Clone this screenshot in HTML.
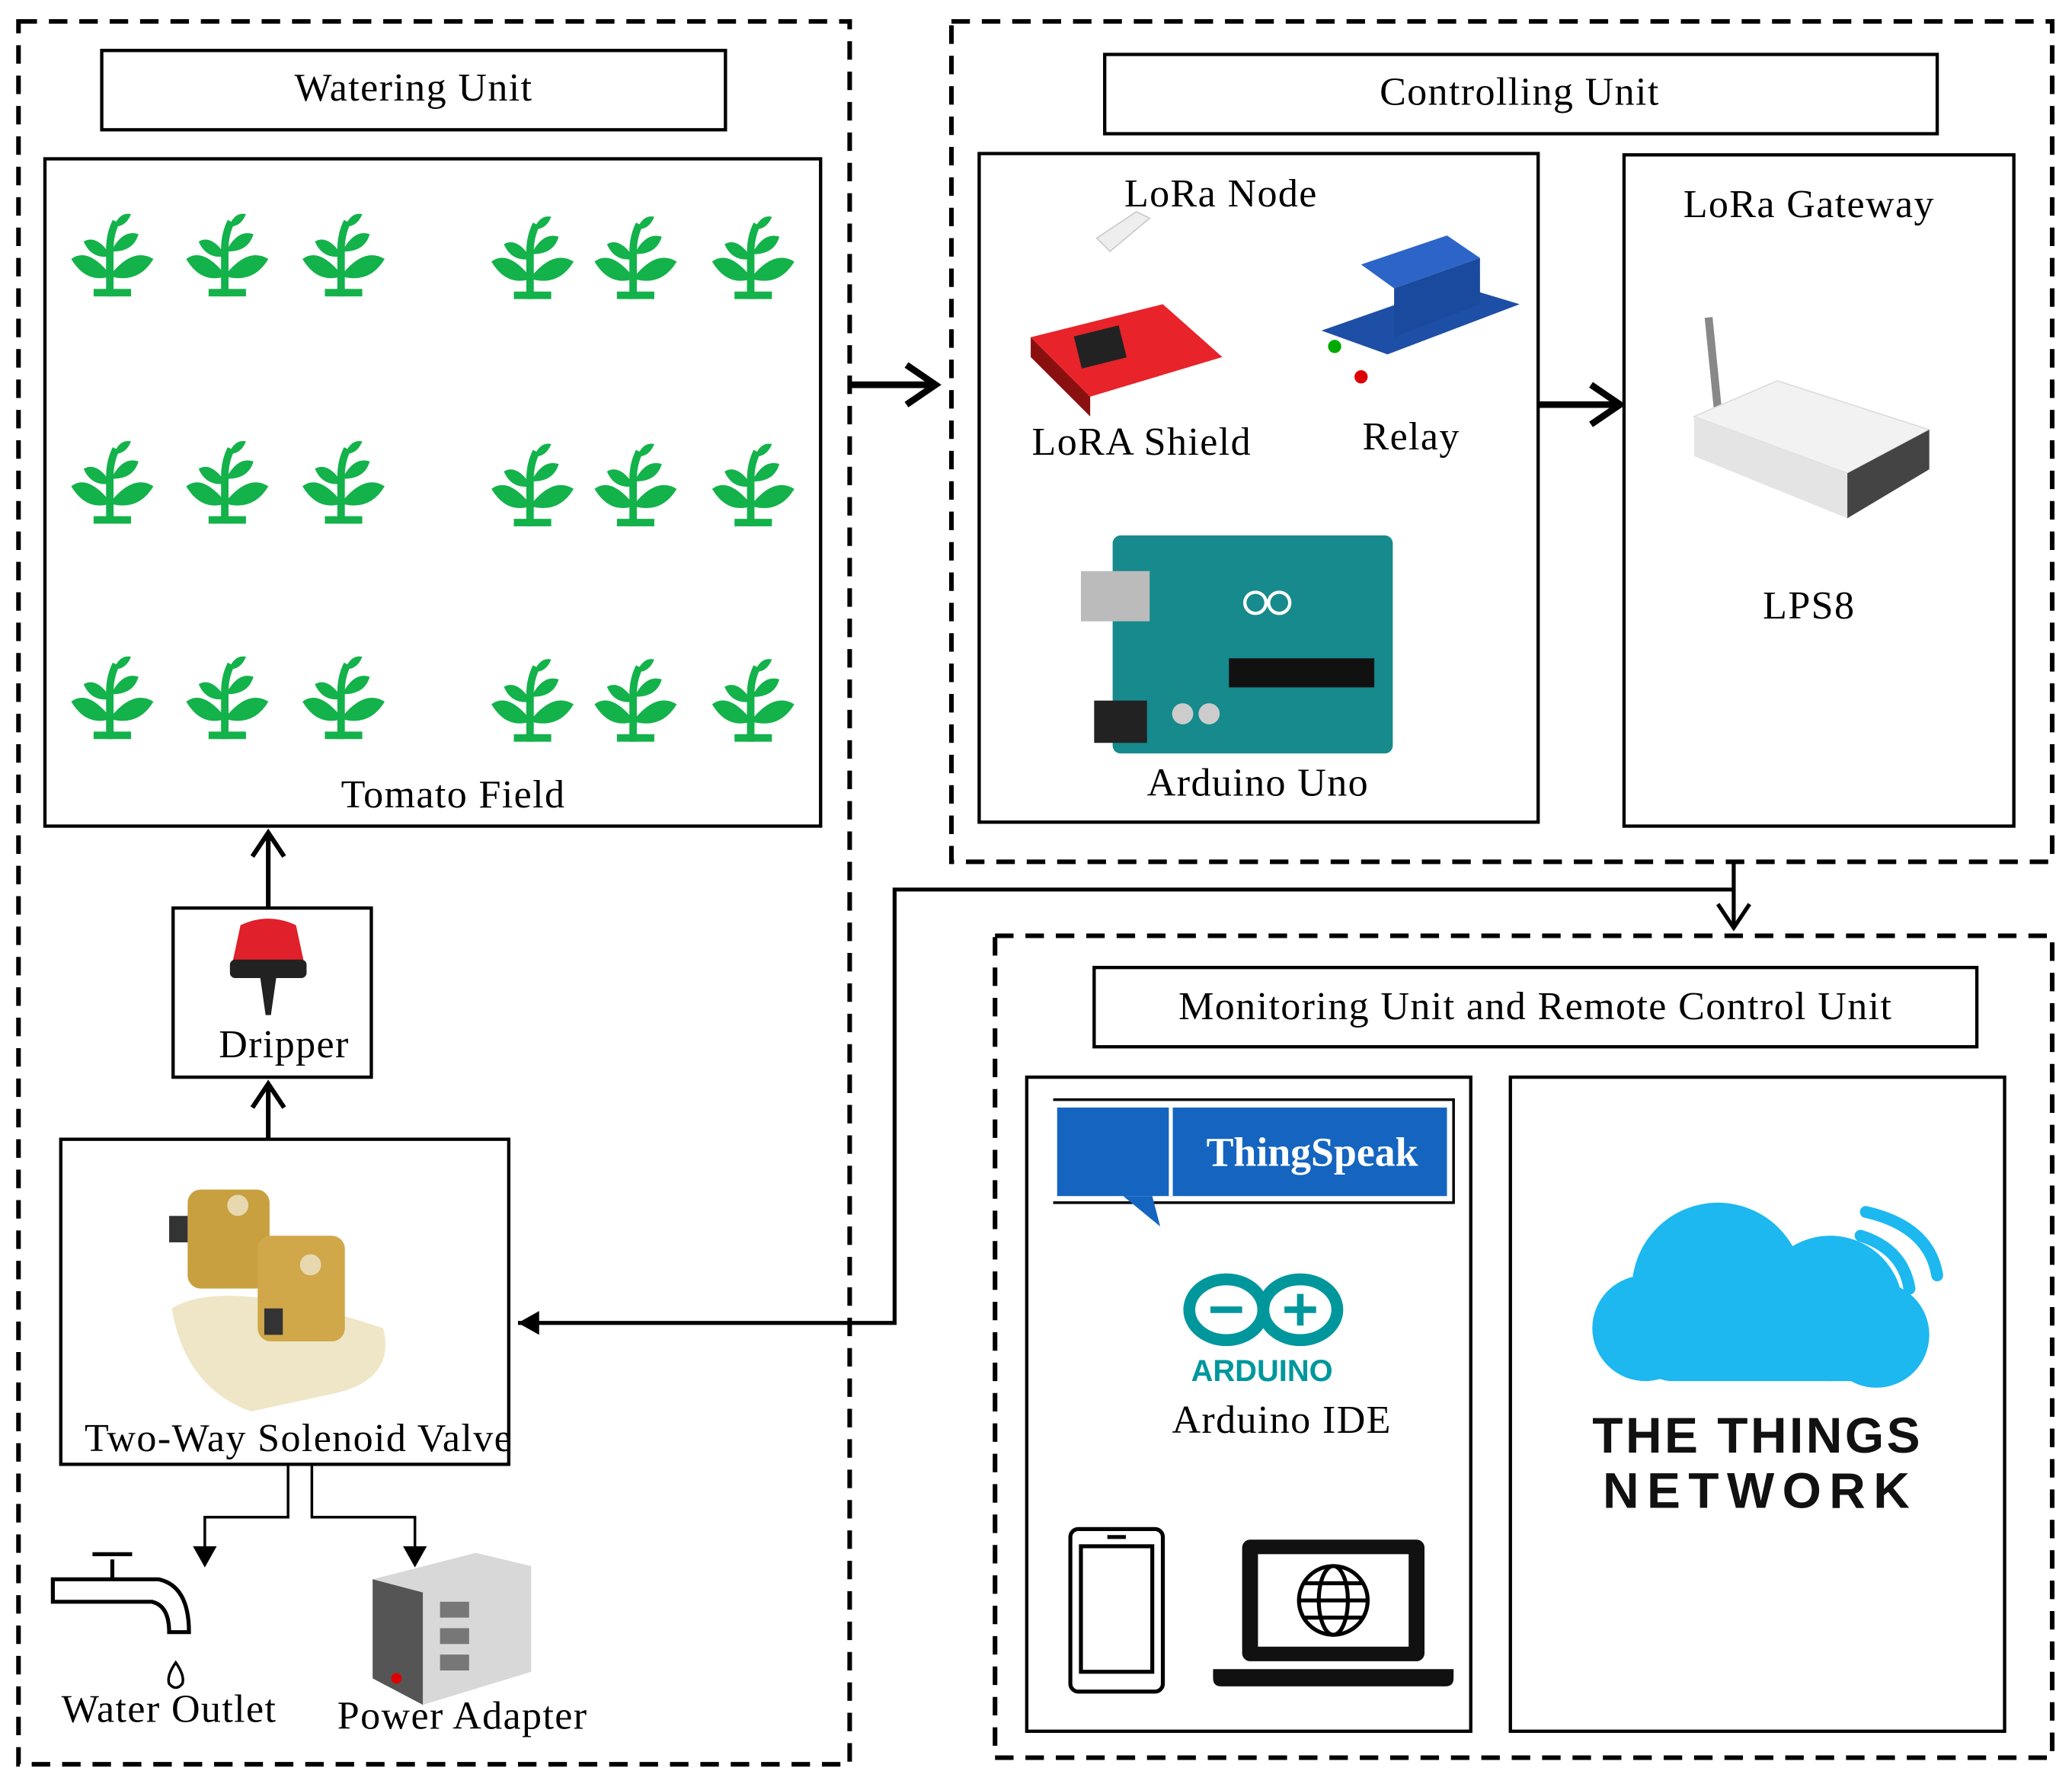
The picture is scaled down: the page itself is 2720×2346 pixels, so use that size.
<!DOCTYPE html>
<html><head><meta charset="utf-8"><style>
html,body{margin:0;padding:0;background:#fff;}
svg{display:block;}
text{font-family:"Liberation Serif",serif;}
text.sans{font-family:"Liberation Sans",sans-serif;}
</style></head><body>
<svg width="2720" height="2346" viewBox="0 0 1568 1352" xmlns="http://www.w3.org/2000/svg">
<defs>
<symbol id="plant" viewBox="0 0 70 70">
<path d="M33 68 L33 30 Q33 18 38 8" stroke="#13b24a" stroke-width="6" fill="none"/>
<path d="M33 50 Q15 28 2 38 Q14 58 33 52Z" fill="#13b24a"/>
<path d="M34 50 Q52 28 68 38 Q56 58 34 52Z" fill="#13b24a"/>
<path d="M33 34 Q22 18 12 24 Q18 38 33 36Z" fill="#13b24a"/>
<path d="M35 30 Q44 14 56 18 Q52 32 35 32Z" fill="#13b24a"/>
<path d="M37 10 Q42 0 50 2 Q46 12 37 12Z" fill="#13b24a"/>
<rect x="20" y="62" width="30" height="6" fill="#13b24a"/>
</symbol>
</defs>
<g fill="none" stroke="#000" stroke-width="3.5" stroke-dasharray="14 9">
<rect x="14" y="16" width="629" height="1319"/>
<rect x="720" y="16" width="833" height="636"/>
<rect x="753" y="708" width="800" height="622"/>
</g>
<g fill="none" stroke="#000" stroke-width="2.5">
<rect x="77" y="38" width="472" height="60"/>
<rect x="34" y="120" width="587" height="505"/>
<rect x="131" y="687" width="150" height="128"/>
<rect x="46" y="862" width="339" height="246"/>
<rect x="836" y="41" width="630" height="60"/>
<rect x="741" y="116" width="423" height="506"/>
<rect x="1229" y="117" width="295" height="508"/>
<rect x="828" y="732" width="668" height="60"/>
<rect x="777" y="815" width="336" height="495"/>
<rect x="1143" y="815" width="374" height="495"/>
</g>
<g font-size="30" text-anchor="middle" fill="#000" letter-spacing="0.8">
<text x="313" y="76">Watering Unit</text>
<text x="343" y="611">Tomato Field</text>
<text x="215" y="800">Dripper</text>
<text x="226" y="1098">Two-Way Solenoid Valve</text>
<text x="128" y="1303">Water Outlet</text>
<text x="350" y="1308">Power Adapter</text>
<text x="1150" y="79">Controlling Unit</text>
<text x="924" y="156">LoRa Node</text>
<text x="864" y="344">LoRA Shield</text>
<text x="1068" y="340">Relay</text>
<text x="952" y="602">Arduino Uno</text>
<text x="1369" y="164">LoRa Gateway</text>
<text x="1369" y="468">LPS8</text>
<text x="1162" y="771">Monitoring Unit and Remote Control Unit</text>
<text x="970" y="1084">Arduino IDE</text>
</g>
<g>
<use href="#plant" x="52" y="160" width="66" height="66"/><use href="#plant" x="139" y="160" width="66" height="66"/><use href="#plant" x="227" y="160" width="66" height="66"/>
<use href="#plant" x="370" y="162" width="66" height="66"/><use href="#plant" x="448" y="162" width="66" height="66"/><use href="#plant" x="537" y="162" width="66" height="66"/>
<use href="#plant" x="52" y="332" width="66" height="66"/><use href="#plant" x="139" y="332" width="66" height="66"/><use href="#plant" x="227" y="332" width="66" height="66"/>
<use href="#plant" x="370" y="334" width="66" height="66"/><use href="#plant" x="448" y="334" width="66" height="66"/><use href="#plant" x="537" y="334" width="66" height="66"/>
<use href="#plant" x="52" y="495" width="66" height="66"/><use href="#plant" x="139" y="495" width="66" height="66"/><use href="#plant" x="227" y="495" width="66" height="66"/>
<use href="#plant" x="370" y="497" width="66" height="66"/><use href="#plant" x="448" y="497" width="66" height="66"/><use href="#plant" x="537" y="497" width="66" height="66"/>
</g>
<g stroke="#000" fill="none" stroke-width="3.5">
<path d="M203 687 V630 M191 648 L203 630 L215 648"/>
<path d="M203 862 V820 M191 838 L203 820 L215 838"/>
<path d="M643 291 H708 M686 276 L708 291 L686 306" stroke-width="5"/>
<path d="M1164 306 H1226 M1204 291 L1226 306 L1204 321" stroke-width="5"/>
<path d="M1312 652 V702 M1300 684 L1312 702 L1324 684" stroke-width="3"/>
<path d="M1312 673 H677 V1001 H392" stroke-width="3"/>
<path d="M392 1001 L408 992 L408 1010Z" fill="#000" stroke="none"/>
</g>
<g stroke="#000" fill="none" stroke-width="2">
<path d="M218 1108 V1148 H155 V1172"/><path d="M236 1108 V1148 H314 V1172"/>
</g>
<path d="M146 1170 L164 1170 L155 1186Z M305 1170 L323 1170 L314 1186Z"/>
<g>
<path d="M182 700 Q203 690 224 700 L230 728 L176 728Z" fill="#e0202a"/>
<rect x="174" y="726" width="58" height="14" rx="4" fill="#222"/>
<path d="M197 740 L209 740 L205 768 L201 768Z" fill="#222"/>
</g>
<g>
<path d="M130 990 Q170 965 290 1005 Q300 1045 250 1055 L190 1068 Q140 1050 130 990Z" fill="#efe6c8"/>
<rect x="142" y="900" width="62" height="75" rx="10" fill="#c8a040"/>
<rect x="195" y="935" width="66" height="80" rx="10" fill="#d0a84a"/>
<circle cx="180" cy="912" r="8" fill="#e8d8b0"/><circle cx="235" cy="957" r="8" fill="#e8d8b0"/>
<rect x="128" y="920" width="14" height="20" fill="#333"/><rect x="200" y="990" width="14" height="20" fill="#333"/>
</g>
<g fill="none" stroke="#000" stroke-width="3">
<path d="M40 1195 H120 Q143 1200 143 1235 H128 Q128 1215 115 1212 H40 Z"/>
<path d="M85 1195 V1180 M70 1176 H100"/>
<path d="M133 1258 Q126 1268 128 1274 Q133 1280 138 1274 Q140 1268 133 1258Z" stroke-width="2"/>
</g>
<g>
<path d="M282 1195 L360 1175 L402 1185 L402 1265 L320 1290 L282 1270Z" fill="#d8d8d8"/>
<path d="M282 1195 L320 1205 L320 1290 L282 1270Z" fill="#555"/>
<rect x="333" y="1212" width="22" height="12" fill="#777"/><rect x="333" y="1232" width="22" height="12" fill="#777"/><rect x="333" y="1252" width="22" height="12" fill="#777"/>
<circle cx="300" cy="1270" r="4" fill="#d00"/>
</g>
<g>
<path d="M830 180 L860 160 L870 165 L840 190Z" fill="#eee" stroke="#ccc"/>
<path d="M780 255 L880 230 L925 270 L825 300Z" fill="#e8232a"/>
<path d="M780 255 L825 300 L825 315 L780 270Z" fill="#8a1010"/>
<rect x="815" y="250" width="35" height="25" fill="#222" transform="rotate(-14 832 262)"/>
</g>
<g>
<path d="M1000 250 L1100 215 L1150 230 L1050 268Z" fill="#1e4fa6"/>
<path d="M1030 200 L1095 178 L1120 195 L1055 218 Z" fill="#2d64c8"/>
<path d="M1055 218 L1120 195 L1120 230 L1055 255Z" fill="#1a4a9e"/>
<circle cx="1030" cy="285" r="5" fill="#d00"/><circle cx="1010" cy="262" r="5" fill="#0a0"/>
</g>
<g>
<rect x="842" y="405" width="212" height="165" rx="6" fill="#168a8c"/>
<rect x="818" y="432" width="52" height="38" fill="#bbb"/>
<rect x="828" y="530" width="40" height="32" fill="#222"/>
<rect x="930" y="498" width="110" height="22" fill="#111"/>
<path d="M950 448 a8 8 0 1 0 0.1 0 M968 448 a8 8 0 1 0 0.1 0" stroke="#fff" stroke-width="2.5" fill="none"/>
<circle cx="895" cy="540" r="8" fill="#ccc"/><circle cx="915" cy="540" r="8" fill="#ccc"/>
</g>
<g>
<line x1="1293" y1="240" x2="1300" y2="310" stroke="#888" stroke-width="6"/>
<path d="M1282 315 L1345 288 L1460 325 L1398 358Z" fill="#f2f2f2" stroke="#ddd"/>
<path d="M1282 315 L1398 358 L1398 392 L1282 345Z" fill="#e4e4e4"/>
<path d="M1398 358 L1460 325 L1460 355 L1398 392Z" fill="#444"/>
</g>
<g>
<path d="M797 832 H1100 V910 H797" fill="none" stroke="#000" stroke-width="2"/>
<rect x="800" y="838" width="295" height="67" fill="#1565c0"/>
<line x1="886" y1="838" x2="886" y2="905" stroke="#fff" stroke-width="3"/>
<path d="M850 905 L878 928 L872 905Z" fill="#1565c0"/>
<text x="993" y="882" font-size="31" font-weight="bold" fill="#fff" text-anchor="middle">ThingSpeak</text>
</g>
<g fill="none" stroke="#00979c" stroke-width="9">
<ellipse cx="928" cy="991" rx="28" ry="23"/><ellipse cx="984" cy="991" rx="28" ry="23"/>
</g>
<path d="M916 991 H940 M972 991 H996 M984 979 V1003" stroke="#00979c" stroke-width="5"/>
<text class="sans" x="955" y="1045" font-size="23" font-weight="bold" fill="#00979c" text-anchor="middle">ARDUINO</text>
<g fill="none" stroke="#000" stroke-width="3">
<rect x="810" y="1157" width="70" height="123" rx="6"/>
<rect x="818" y="1170" width="54" height="95"/>
<line x1="838" y1="1163" x2="852" y2="1163"/>
</g>
<g>
<rect x="940" y="1165" width="138" height="92" rx="6" fill="#111"/>
<rect x="952" y="1176" width="114" height="70" fill="#fff"/>
<path d="M918 1263 H1100 V1270 Q1100 1276 1094 1276 H924 Q918 1276 918 1270Z" fill="#111"/>
<g fill="none" stroke="#000" stroke-width="3"><circle cx="1009" cy="1211" r="26"/><ellipse cx="1009" cy="1211" rx="11" ry="26"/><line x1="983" y1="1211" x2="1035" y2="1211"/><line x1="987" y1="1198" x2="1031" y2="1198"/><line x1="987" y1="1224" x2="1031" y2="1224"/></g>
</g>
<g fill="#1cb8ef">
<circle cx="1300" cy="975" r="65"/><circle cx="1385" cy="990" r="55"/><circle cx="1245" cy="1005" r="40"/><circle cx="1420" cy="1010" r="40"/>
<rect x="1240" y="990" width="200" height="55" rx="25"/>
</g>
<g fill="none" stroke="#1cb8ef" stroke-width="9" stroke-linecap="round">
<path d="M1408 935 Q1440 945 1445 975"/><path d="M1412 917 Q1460 928 1466 965"/>
</g>
<g font-weight="bold" font-size="38" text-anchor="middle" fill="#111">
<text class="sans" x="1330" y="1099" letter-spacing="2">THE THINGS</text>
<text class="sans" x="1332" y="1141" letter-spacing="6">NETWORK</text>
</g>
</svg>
</body></html>
